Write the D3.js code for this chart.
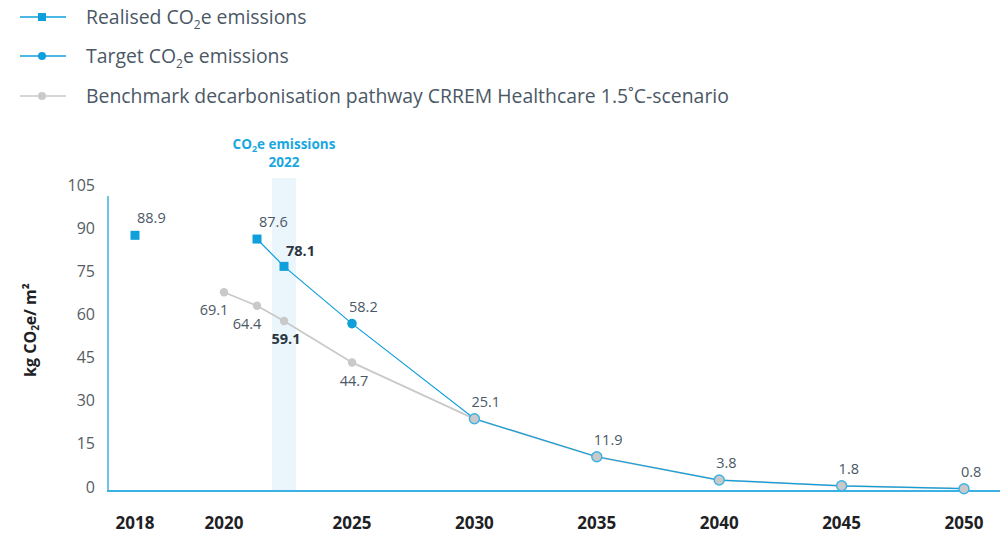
<!DOCTYPE html>
<html>
<head>
<meta charset="utf-8">
<script src="https://cdn.jsdelivr.net/npm/d3@7"></script>
<style>
  body { margin: 0; background: #fff; }
  svg { display: block; font-family: "Open Sans", sans-serif; }
</style>
</head>
<body>
<svg id="chart"></svg>
<script>
var realisedYears = [2018, 2021, 2022];
var realisedValues = [88.9, 87.6, 78.1];
var targetYears = [2025, 2030, 2035, 2040, 2045, 2050];
var targetValues = [58.2, 25.1, 11.9, 3.8, 1.8, 0.8];
var benchmarkYears = [2020, 2021, 2022, 2025, 2030, 2035, 2040, 2045, 2050];
var benchmarkValues = [69.1, 64.4, 59.1, 44.7, 25.1, 11.9, 3.8, 1.8, 0.8];
var xTicks = [2018, 2020, 2025, 2030, 2035, 2040, 2045, 2050];
var yTicks = [0, 15, 30, 45, 60, 75, 90, 105];
var highlightYear = 2022;

var blue = "#0f9fdb",
    axisBlue = "#3cb2e4",
    grey = "#c9c9c9",
    textCol = "#4b5866",
    darkText = "#2b3540";

var width = 1005,
    height = 534;

var svg = d3.select("#chart").attr("width", width).attr("height", height);

// x is piecewise: 2018 sits apart, early years are spread a bit wider
var x = d3.scaleLinear()
    .domain([2018, 2020, 2021, 2022, 2025, 2050])
    .range([135, 224, 257, 284, 352, 964]);
var y = d3.scaleLinear().domain([0, 105]).range([491, 189]);

function zip(years, values) {
    return years.map(function(d, i) { return { year: d, value: values[i] }; });
}
var realised = zip(realisedYears, realisedValues);
var target = zip(targetYears, targetValues);
var benchmark = zip(benchmarkYears, benchmarkValues);

// legend
var legend = [
    { label: "Realised CO", sub: "2", rest: "e emissions", shape: "square", color: blue },
    { label: "Target CO", sub: "2", rest: "e emissions", shape: "circle", color: blue },
    { label: "Benchmark decarbonisation pathway CRREM Healthcare 1.5\u02DAC-scenario", sub: "", rest: "", shape: "circle", color: grey }
];
var lg = svg.append("g").selectAll("g").data(legend).enter().append("g")
    .attr("transform", function(d, i) { return "translate(0," + [17, 56, 96][i] + ")"; });
lg.append("line").attr("x1", 20).attr("x2", 66).attr("stroke", function(d) { return d.color; })
    .attr("stroke-width", 1.5);
lg.each(function(d) {
    var g = d3.select(this);
    if (d.shape == "square")
        g.append("rect").attr("x", 38).attr("y", -4).attr("width", 8).attr("height", 8).attr("fill", d.color);
    else
        g.append("circle").attr("cx", 42).attr("r", 4).attr("fill", d.color);
    var t = g.append("text").attr("x", 86).attr("dy", "0.35em").attr("fill", textCol)
        .style("font-size", "19.4px").text(d.label);
    if (d.sub) {
        t.append("tspan").attr("dy", 5).style("font-size", "12px").text(d.sub);
        t.append("tspan").attr("dy", -5).text(d.rest);
    }
});

// 2022 highlight band
svg.append("rect")
    .attr("x", x(highlightYear) - 12).attr("y", 178)
    .attr("width", 24).attr("height", y(0) - 178)
    .attr("fill", "#eaf5fc");
var hl = svg.append("text").attr("text-anchor", "middle").attr("fill", "#1aa7df")
    .style("font-size", "13.5px").style("font-weight", "bold");
hl.append("tspan").attr("x", x(highlightYear)).attr("y", 149).text("CO");
hl.append("tspan").attr("dy", 3).style("font-size", "9px").text("2");
hl.append("tspan").attr("dy", -3).text("e emissions");
hl.append("tspan").attr("x", x(highlightYear)).attr("y", 167).text(highlightYear);

// axes
svg.append("line").attr("x1", 108).attr("x2", 108).attr("y1", 196).attr("y2", y(0))
    .attr("stroke", axisBlue).attr("stroke-width", 1.5);
svg.append("line").attr("x1", 107).attr("x2", 1000).attr("y1", y(0)).attr("y2", y(0))
    .attr("stroke", axisBlue).attr("stroke-width", 2);

svg.append("g").selectAll("text").data(yTicks).enter().append("text")
    .attr("x", 95).attr("y", function(d) { return y(d) - 4; })
    .attr("dy", "0.35em").attr("text-anchor", "end")
    .attr("fill", "#555c63").style("font-size", "16px")
    .text(function(d) { return d; });

svg.append("g").selectAll("text").data(xTicks).enter().append("text")
    .attr("x", function(d) { return x(d); }).attr("y", 523)
    .attr("dy", "0.35em").attr("text-anchor", "middle")
    .attr("fill", "#1e2124").style("font-size", "17px").style("font-weight", "bold")
    .text(function(d) { return d; });

var yt = svg.append("text")
    .attr("transform", "translate(36,330) rotate(-90)")
    .attr("text-anchor", "middle").attr("fill", "#1e2124")
    .style("font-size", "16px").style("font-weight", "bold");
yt.append("tspan").text("kg CO");
yt.append("tspan").attr("dy", 3).style("font-size", "10px").text("2");
yt.append("tspan").attr("dy", -3).text("e/ m\u00B2");

// lines
var line = d3.line().x(function(d) { return x(d.year); }).y(function(d) { return y(d.value); });
svg.append("path").datum(benchmark).attr("d", line)
    .attr("fill", "none").attr("stroke", grey).attr("stroke-width", 1.8);
var bluePath = realised.filter(function(d) { return d.year > 2018; }).concat(target);
svg.append("path").datum(bluePath).attr("d", line)
    .attr("fill", "none").attr("stroke", blue).attr("stroke-width", 1.2);

// markers
function shared(d) {
    return targetYears.indexOf(d.year) >= 0 && targetValues[targetYears.indexOf(d.year)] == d.value;
}
svg.append("g").selectAll("circle").data(benchmark).enter().append("circle")
    .attr("cx", function(d) { return x(d.year); }).attr("cy", function(d) { return y(d.value); })
    .attr("r", function(d) { return shared(d) ? 5 : 4.2; })
    .attr("fill", grey)
    .attr("stroke", function(d) { return shared(d) ? axisBlue : "none"; })
    .attr("stroke-width", 1.4);
svg.append("g").selectAll("circle").data(target.filter(function(d) {
        return benchmarkValues[benchmarkYears.indexOf(d.year)] != d.value;
    })).enter().append("circle")
    .attr("cx", function(d) { return x(d.year); }).attr("cy", function(d) { return y(d.value); })
    .attr("r", 4.8).attr("fill", blue);
svg.append("g").selectAll("rect").data(realised).enter().append("rect")
    .attr("x", function(d) { return x(d.year) - 4.5; }).attr("y", function(d) { return y(d.value) - 4.5; })
    .attr("width", 9).attr("height", 9).attr("fill", blue);

// value labels
function fmt(d) { return d3.format(".1f")(d.value); }
function isBold(d) { return d.year == highlightYear; }

svg.append("g").selectAll("text").data(realised.concat(target)).enter().append("text")
    .attr("x", function(d) { return x(d.year) + (d.year <= highlightYear ? 2 : -3); })
    .attr("y", function(d) { return y(d.value) - (d.year == highlightYear ? 15 : 17); })
    .attr("dy", "0.35em")
    .attr("fill", function(d) { return isBold(d) ? darkText : textCol; })
    .style("font-size", "14.5px")
    .style("font-weight", function(d) { return isBold(d) ? "bold" : "normal"; })
    .text(fmt);

svg.append("g").selectAll("text").data(benchmark.filter(function(d) { return !shared(d); })).enter().append("text")
    .attr("x", function(d) { return x(d.year) + (d.year < highlightYear ? -10 : 2); })
    .attr("y", function(d) { return y(d.value) + 18; })
    .attr("dy", "0.35em").attr("text-anchor", "middle")
    .attr("fill", function(d) { return isBold(d) ? darkText : textCol; })
    .style("font-size", "14.5px")
    .style("font-weight", function(d) { return isBold(d) ? "bold" : "normal"; })
    .text(fmt);
</script>
</body>
</html>
